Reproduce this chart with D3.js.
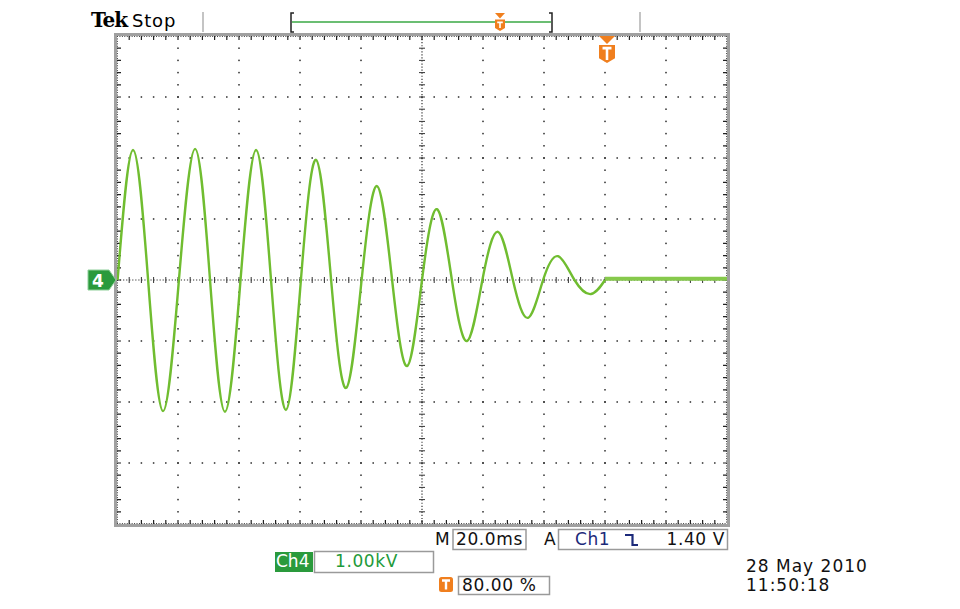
<!DOCTYPE html>
<meta charset="utf-8">
<style>
body { margin: 0; background: #fff; }
text { font-family: "DejaVu Sans", Verdana, sans-serif; }
.lbl { font-size: 17px; letter-spacing: 0.6px; fill: #111; }
.box { fill: #fff; stroke: #9a9a9a; stroke-width: 1.5px; }
.dot { fill: #2a2a2a; }
</style>
<svg width="960" height="609"></svg>
<script src="https://d3js.org/d3.v7.min.js"></script>
<script>

// Ch4 trace: time in ms, amplitude in kV
var traceT = [0.2, 5.25, 10.2, 15.1, 20.3, 25.6, 30.5, 35.4, 40.5, 45.6, 50.5, 55.4,
              60.3, 65.25, 70.2, 75.1, 80.2, 85.25, 90.2, 95.1, 100.0, 104.9, 109.8,
              114.75, 119.8, 124.9, 129.8, 134.75, 139.7, 144.6, 150.0, 155.4, 160.0];
var traceV = [0, 2.13, 0, -2.15, 0, 2.15, 0, -2.16, 0, 2.13, 0, -2.13,
              0, 1.97, 0, -1.77, 0, 1.54, 0, -1.41, 0, 1.16, 0,
              -1.00, 0, 0.79, 0, -0.62, 0, 0.39, 0, -0.23, 0];
// flat (noisy) tail after the trigger
var tailT = [160, 200];
var tailV = [0.02, 0.02];

// readouts
var timeDiv = "20.0ms";
var voltDiv = "1.00kV";
var trigSource = "Ch1";
var trigLevel = "1.40 V";
var trigPos = "80.00 %";
var trigTime = 160;
var dateStr = "28 May 2010";
var timeStr = "11:50:18";

var svg = d3.select("svg");

var x = d3.scaleLinear().domain([0, 200]).range([117, 727]),
    y = d3.scaleLinear().domain([-4, 4]).range([524, 36]);

var x0 = x.range()[0], x1 = x.range()[1],
    y0 = y.range()[1], y1 = y.range()[0],
    xc = x(100), yc = y(0);

var majorX = d3.range(0, 201, 20),
    majorY = d3.range(-4, 4.01, 1),
    minorX = d3.range(0, 200.01, 4),
    minorY = d3.range(-4, 4.01, 0.2);

var grid = svg.append("g");

// dotted graticule lines
majorX.slice(1, -1).filter(function(t) { return t !== 100; }).forEach(function(t) {
  grid.selectAll(null).data(minorY.slice(1, -1)).enter().append("rect")
      .attr("class", "dot")
      .attr("x", x(t) - 0.75).attr("y", function(v) { return y(v) - 0.75; })
      .attr("width", 1.5).attr("height", 1.5);
});
majorY.slice(1, -1).filter(function(v) { return v !== 0; }).forEach(function(v) {
  grid.selectAll(null).data(minorX.slice(1, -1)).enter().append("rect")
      .attr("class", "dot")
      .attr("x", function(t) { return x(t) - 0.75; }).attr("y", y(v) - 0.75)
      .attr("width", 1.5).attr("height", 1.5);
});

// centre cross
grid.append("line")
    .attr("x1", x0).attr("x2", x1).attr("y1", yc).attr("y2", yc)
    .attr("stroke", "#333").attr("stroke-width", 1.2).attr("stroke-dasharray", "1.2,1.84");
grid.append("line")
    .attr("x1", xc).attr("x2", xc).attr("y1", y0).attr("y2", y1)
    .attr("stroke", "#333").attr("stroke-width", 1.2).attr("stroke-dasharray", "1.2,1.85");
grid.selectAll(null).data(minorX.slice(1, -1)).enter().append("line")
    .attr("x1", function(t) { return x(t); }).attr("x2", function(t) { return x(t); })
    .attr("y1", yc - 3).attr("y2", yc + 3)
    .attr("stroke", "#333").attr("stroke-width", 1);
grid.selectAll(null).data(minorY.slice(1, -1)).enter().append("line")
    .attr("y1", function(v) { return y(v); }).attr("y2", function(v) { return y(v); })
    .attr("x1", xc - 3).attr("x2", xc + 3)
    .attr("stroke", "#333").attr("stroke-width", 1);

// frame
grid.append("rect")
    .attr("x", x0 - 1.5).attr("y", y0 - 1.5)
    .attr("width", x1 - x0 + 3).attr("height", y1 - y0 + 3)
    .attr("fill", "none").attr("stroke", "#a0a0a0").attr("stroke-width", 3);
// fine ticks on the inner edge of the frame
[[x0, y0 + 0.5, x1, y0 + 0.5], [x0, y1 - 0.5, x1, y1 - 0.5],
 [x0 + 0.5, y0, x0 + 0.5, y1], [x1 - 0.5, y0, x1 - 0.5, y1]].forEach(function(l) {
  grid.append("line")
      .attr("x1", l[0]).attr("y1", l[1]).attr("x2", l[2]).attr("y2", l[3])
      .attr("stroke", "#444").attr("stroke-width", 1).attr("stroke-dasharray", "1,1.44");
});
grid.selectAll(null).data(minorX.slice(1, -1)).enter().append("path")
    .attr("d", function(t) { return "M" + x(t) + "," + y0 + "v4M" + x(t) + "," + y1 + "v-4"; })
    .attr("stroke", "#222").attr("stroke-width", 1.2);
grid.selectAll(null).data(minorY.slice(1, -1)).enter().append("path")
    .attr("d", function(v) { return "M" + x0 + "," + y(v) + "h4M" + x1 + "," + y(v) + "h-4"; })
    .attr("stroke", "#222").attr("stroke-width", 1.2);

// trace
svg.append("clipPath").attr("id", "screen")
  .append("rect").attr("x", x0).attr("y", y0).attr("width", x1 - x0).attr("height", y1 - y0);

var line = d3.line()
    .x(function(d) { return x(d[0]); })
    .y(function(d) { return y(d[1]); });

var trace = svg.append("g").attr("clip-path", "url(#screen)");
trace.append("path")
    .datum(d3.zip(tailT, tailV))
    .attr("d", line.curve(d3.curveLinear))
    .attr("fill", "none").attr("stroke", "#86c94c").attr("stroke-width", 4);
trace.append("path")
    .datum(d3.zip(traceT, traceV))
    .attr("d", line.curve(d3.curveNatural))
    .attr("fill", "none").attr("stroke", "#70bd30").attr("stroke-width", 2.4);

// header
svg.append("text").attr("x", 91).attr("y", 27)
    .style("font-family", "'DejaVu Serif', serif").style("font-weight", "bold")
    .style("font-size", "20px").style("letter-spacing", "-1px").text("Tek");
svg.append("text").attr("x", 132).attr("y", 27)
    .style("font-family", "'DejaVu Sans', sans-serif")
    .style("font-size", "18px").style("letter-spacing", "0.8px").text("Stop");

[203, 640].forEach(function(px) {
  svg.append("line").attr("x1", px).attr("x2", px).attr("y1", 12).attr("y2", 32)
      .attr("stroke", "#b0b0b0").attr("stroke-width", 1.5);
});

// record view bar
svg.append("line").attr("x1", 292).attr("x2", 551).attr("y1", 22).attr("y2", 22)
    .attr("stroke", "#3aa844").attr("stroke-width", 1.5);
svg.append("path").attr("d", "M294,13H291V32H294M549,13H552V32H549")
    .attr("fill", "none").attr("stroke", "#222").attr("stroke-width", 1.5);

var orange = "#f07f1e";

function tMarker(cx, top, w, h) {
  var g = svg.append("g");
  var tri = h * 0.3;
  g.append("path")
      .attr("d", "M" + (cx - w / 2) + "," + top + "H" + (cx + w / 2) + "L" + cx + "," + (top + tri) + "Z")
      .attr("fill", orange);
  var sy = top + tri + 1;
  g.append("path")
      .attr("d", "M" + (cx - w / 2) + "," + sy + "H" + (cx + w / 2) + "V" + (top + h - w * 0.3) +
                 "L" + cx + "," + (top + h) + "L" + (cx - w / 2) + "," + (top + h - w * 0.3) + "Z")
      .attr("fill", orange);
  g.append("path")
      .attr("d", "M" + (cx - w * 0.28) + "," + (sy + 3) + "H" + (cx + w * 0.28) + "M" + cx + "," + (sy + 3) +
                 "V" + (top + h - 3))
      .attr("stroke", "#fff").attr("stroke-width", Math.max(1.5, w * 0.16));
}
tMarker(500, 13, 10, 18);
tMarker(x(trigTime) + 2, 36, 16, 27);

// channel 4 ground marker
svg.append("path")
    .attr("d", "M88," + (yc - 10) + "H109L116," + yc + "L109," + (yc + 10) + "H88Z")
    .attr("fill", "#2a9a3c").attr("stroke", "#8fcf9a").attr("stroke-width", 1);
svg.append("text").attr("x", 98).attr("y", yc + 6.5).attr("text-anchor", "middle")
    .style("font-size", "17px").style("font-weight", "bold").attr("fill", "#fff").text("4");

// bottom readouts
svg.append("text").attr("class", "lbl").attr("x", 435).attr("y", 545).text("M");
svg.append("rect").attr("class", "box").attr("x", 453).attr("y", 529.5).attr("width", 73).attr("height", 20);
svg.append("text").attr("class", "lbl").attr("x", 456).attr("y", 545).text(timeDiv);

svg.append("text").attr("class", "lbl").attr("x", 544).attr("y", 545).text("A");
svg.append("rect").attr("class", "box").attr("x", 558.5).attr("y", 529.5).attr("width", 169).attr("height", 20);
svg.append("text").attr("class", "lbl").attr("x", 575).attr("y", 545)
    .style("fill", "#1c2a7a").text(trigSource);
svg.append("path").attr("d", "M625,535H632.5V545H638")
    .attr("fill", "none").attr("stroke", "#1c2a7a").attr("stroke-width", 2.2);
svg.append("text").attr("class", "lbl").attr("x", 725).attr("y", 545).attr("text-anchor", "end").text(trigLevel);

svg.append("rect").attr("x", 275).attr("y", 552).attr("width", 38).attr("height", 20).attr("fill", "#2a9a3c");
svg.append("text").attr("class", "lbl").attr("x", 276).attr("y", 567).style("fill", "#fff")
    .style("letter-spacing", "0px").text("Ch4");
svg.append("rect").attr("class", "box").attr("x", 314.5).attr("y", 551.5).attr("width", 119).attr("height", 21);
svg.append("text").attr("class", "lbl").attr("x", 335).attr("y", 567).style("fill", "#1e9a3a").text(voltDiv);

svg.append("rect").attr("x", 439).attr("y", 577).attr("width", 14).attr("height", 15).attr("rx", 2.5).attr("fill", orange);
svg.append("path").attr("d", "M442,580.5H450M446,580.5V589.5")
    .attr("stroke", "#fff").attr("stroke-width", 2.4);
svg.append("rect").attr("class", "box").attr("x", 458.5).attr("y", 576.5).attr("width", 91).attr("height", 18);
svg.append("text").attr("class", "lbl").attr("x", 462).attr("y", 591).text(trigPos);

svg.append("text").attr("class", "lbl").attr("x", 746).attr("y", 572).style("letter-spacing", "1px").text(dateStr);
svg.append("text").attr("class", "lbl").attr("x", 746).attr("y", 591).style("letter-spacing", "1px").text(timeStr);

</script>
